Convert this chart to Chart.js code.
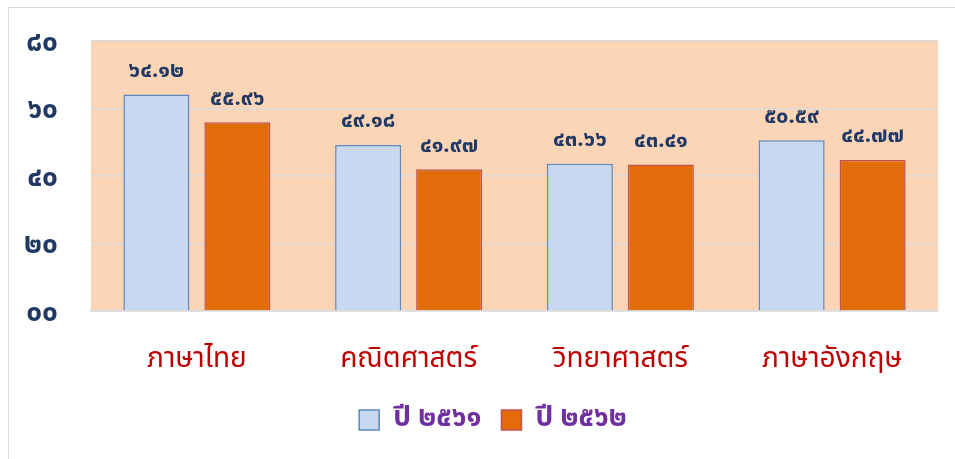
<!DOCTYPE html>
<html lang="th">
<head>
    <meta charset="UTF-8">
    <title>ผลคะแนนเฉลี่ย ปี ๒๕๖๑ - ๒๕๖๒</title>
    <script src="https://cdnjs.cloudflare.com/ajax/libs/Chart.js/4.4.1/chart.umd.min.js"></script>
    <style>
        body {
            margin: 0;
            padding: 0;
            background: #ffffff;
        }
        .wrap {
            position: relative;
            width: 955px;
            height: 459px;
        }
        .frame {
            position: absolute;
            left: 8px;
            top: 7px;
            right: 0;
            bottom: 0;
            border-left: 1px solid #d9d9d9;
            border-top: 1px solid #d9d9d9;
        }
        canvas {
            position: absolute;
            left: 0;
            top: 0;
        }
    </style>
</head>
<body>
<div class="wrap">
    <div class="frame"></div>
    <canvas id="myChart" width="955" height="459"></canvas>
</div>
<script>
    // ข้อมูล
    const categories = ['ภาษาไทย', 'คณิตศาสตร์', 'วิทยาศาสตร์', 'ภาษาอังกฤษ'];
    const seriesNames = ['ปี ๒๕๖๑', 'ปี ๒๕๖๒'];
    const values2561 = [64.12, 49.18, 43.66, 50.59];
    const values2562 = [55.96, 41.97, 43.41, 44.77];
    const yTicks = [0, 20, 40, 60, 80];

    const thaiFont = "Tahoma, 'Noto Sans Thai', 'Noto Sans', sans-serif";

    // เลขอารบิก -> เลขไทย
    function toThai(str) {
        return String(str).replace(/[0-9]/g, d => '๐๑๒๓๔๕๖๗๘๙'[d]);
    }

    // พื้นหลังพื้นที่กราฟ
    const plotBg = {
        id: 'plotBg',
        beforeDraw(chart) {
            const a = chart.chartArea, c = chart.ctx;
            c.save();
            c.fillStyle = '#fbd5b5';
            c.fillRect(a.left, a.top, a.right - a.left, a.bottom - a.top);
            c.restore();
        }
    };

    // เลื่อนคำอธิบายไปทางขวาเล็กน้อย
    const legendShift = {
        id: 'legendShift',
        afterLayout(chart) {
            chart.legend.left += 24;
            chart.legend.right += 24;
            chart.legend.top -= 1;
            chart.legend.bottom -= 1;
        }
    };

    // ป้ายค่าบนแท่ง
    const barLabels = {
        id: 'barLabels',
        afterDatasetsDraw(chart) {
            const c = chart.ctx;
            c.save();
            c.font = 'bold 22px ' + thaiFont;
            c.fillStyle = '#1f3864';
            c.textAlign = 'center';
            c.textBaseline = 'middle';
            chart.data.datasets.forEach((ds, i) => {
                chart.getDatasetMeta(i).data.forEach((bar, j) => {
                    c.fillText(toThai(ds.data[j].toFixed(2)), bar.x, bar.y - 22);
                });
            });
            c.restore();
        }
    };

    const ctx = document.getElementById('myChart').getContext('2d');
    const myChart = new Chart(ctx, {
        type: 'bar',
        data: {
            labels: categories,
            datasets: [{
                label: seriesNames[0],
                data: values2561,
                backgroundColor: '#c6d9f1',
                borderColor: '#5b87c2',
                borderWidth: 1.5,
                categoryPercentage: 0.765,
                barPercentage: 0.815
            }, {
                label: seriesNames[1],
                data: values2562,
                backgroundColor: '#e36c0a',
                borderColor: '#c0504d',
                borderWidth: 1.5,
                categoryPercentage: 0.765,
                barPercentage: 0.815
            }]
        },
        options: {
            responsive: false,
            animation: false,
            layout: {
                padding: { left: 0, right: 17, top: 41, bottom: 14 }
            },
            plugins: {
                tooltip: { enabled: false },
                legend: {
                    position: 'bottom',
                    labels: {
                        boxWidth: 20,
                        boxHeight: 20,
                        padding: 20,
                        color: '#7030a0',
                        font: { family: thaiFont, size: 28, weight: 'bold' }
                    }
                }
            },
            scales: {
                x: {
                    grid: { display: false },
                    border: { display: true, color: '#d9d9d9', width: 1.5 },
                    ticks: {
                        padding: 26,
                        color: '#c00000',
                        font: { family: thaiFont, size: 28 }
                    },
                    afterFit(scale) { scale.height = 76; }
                },
                y: {
                    min: 0,
                    max: 80,
                    afterBuildTicks(scale) {
                        scale.ticks = yTicks.map(v => ({ value: v }));
                    },
                    grid: { color: '#d9d9d9', lineWidth: 1.5, drawTicks: false },
                    border: { display: false },
                    ticks: {
                        padding: 33,
                        labelOffset: 4,
                        color: '#1f3864',
                        font: { family: thaiFont, size: 28, weight: 'bold' },
                        callback: v => toThai(String(v).padStart(2, '0'))
                    },
                    afterFit(scale) {
                        scale.width = 91;
                        scale.paddingTop = 0;
                        scale.paddingBottom = 0;
                    }
                }
            }
        },
        plugins: [plotBg, legendShift, barLabels]
    });
</script>
</body>
</html>
